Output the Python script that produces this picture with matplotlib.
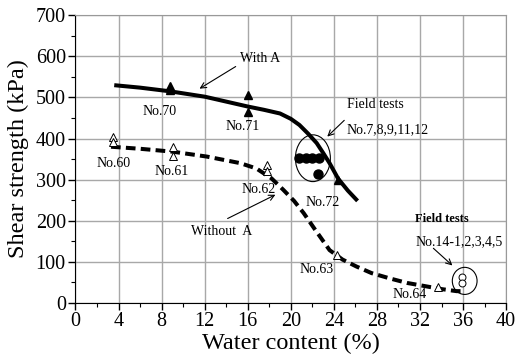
import matplotlib.pyplot as plt
from matplotlib.patches import Ellipse

plt.rcParams['font.family'] = ['Liberation Serif', 'DejaVu Serif']

# fitted trend lines
with_a_x = [3.6, 6.0, 8.8, 12.0, 14.0, 16.0, 17.5, 19.0, 20.0, 20.8, 21.6, 22.4, 23.0, 23.6, 24.4, 25.3, 26.2]
with_a_y = [530, 524, 515, 502, 490, 478, 470, 461, 448, 433, 412, 389, 365, 340, 302, 273, 248]
without_a_x = [3.3, 6.0, 9.0, 12.2, 15.3, 16.8, 18.2, 19.3, 20.3, 21.2, 22.2, 23.6, 24.8, 26.1, 27.5, 29.2, 30.8, 32.3, 34.0, 35.4, 36.2]
without_a_y = [380, 375, 368, 356, 340, 327, 303, 275, 248, 218, 180, 128, 105, 88, 72, 59, 48, 41, 33, 28, 28]

# lab tests
with_a_pts_x = [8.8, 8.8, 16.0, 16.0, 24.4]
with_a_pts_y = [528, 518, 506, 464, 298]
without_a_pts_x = [3.45, 3.45, 9.1, 9.1, 17.8, 17.8, 24.3, 33.7]
without_a_pts_y = [404, 391, 380, 358, 336, 322, 116, 37]

# field tests
field1_x = [20.8, 21.4, 22.0, 22.6, 22.5]
field1_y = [353, 353, 353, 353, 313]
field2_x = [35.9, 35.9]
field2_y = [63, 47]

fig, ax = plt.subplots(figsize=(5.17, 3.59), dpi=100)
fig.subplots_adjust(left=0.146, right=0.979, bottom=0.157, top=0.957)

ax.plot(with_a_x, with_a_y, color='black', lw=2.9, solid_capstyle='butt', zorder=3)
ax.plot(without_a_x, without_a_y, color='black', lw=2.9, ls=(0, (2.4, 1.3)), zorder=3)

ax.plot(with_a_pts_x, with_a_pts_y, ls='none', marker='^', ms=6, color='black', zorder=4)
ax.plot(without_a_pts_x, without_a_pts_y, ls='none', marker='^', ms=6,
        mfc='white', mec='black', mew=0.7, zorder=4)
ax.plot(field1_x, field1_y, ls='none', marker='o', ms=6.5, color='black', zorder=4)
ax.plot(field2_x, field2_y, ls='none', marker='o', ms=5, mfc='white', mec='black', mew=0.7, zorder=4)

ax.add_patch(Ellipse((22.05, 352), 3.25, 114, fill=False, ec='black', lw=0.8, zorder=5))
ax.add_patch(Ellipse((36.15, 53), 2.3, 66, fill=False, ec='black', lw=0.8, zorder=5))

fs = 10
ax.text(15.25, 596, 'With A', fontsize=fs, va='center')
ax.annotate('', xy=(11.3, 518), xytext=(15.1, 579),
            arrowprops=dict(arrowstyle='->', lw=0.8, color='black'))
ax.text(13.55, 173, 'Without  A', fontsize=fs, ha='center', va='center')
ax.annotate('', xy=(18.8, 266), xytext=(13.9, 202),
            arrowprops=dict(arrowstyle='->', lw=0.8, color='black'))

ax.text(25.2, 484, 'Field tests', fontsize=fs, va='center')
ax.text(25.2, 422, 'No.7,8,9,11,12', fontsize=fs, va='center')
ax.annotate('', xy=(23.2, 400), xytext=(25.15, 449),
            arrowprops=dict(arrowstyle='->', lw=0.8, color='black'))

ax.text(31.55, 204, 'Field tests', fontsize=9, fontweight='bold', va='center')
ax.text(31.55, 149, 'No.14-1,2,3,4,5', fontsize=fs, va='center')
ax.annotate('', xy=(35.2, 86), xytext=(33.05, 137),
            arrowprops=dict(arrowstyle='->', lw=0.8, color='black'))

labels = [('No.70', 7.85, 465), ('No.71', 15.55, 429), ('No.60', 3.5, 338),
          ('No.61', 8.95, 319), ('No.62', 17.0, 275), ('No.72', 23.0, 245),
          ('No.63', 22.4, 81), ('No.64', 31.0, 19)]
for txt, lx, ly in labels:
    ax.text(lx, ly, txt, fontsize=fs, ha='center', va='center')

ax.set_xlim(0, 40)
ax.set_ylim(0, 700)
ax.set_xticks(range(0, 41, 4))
ax.set_yticks(range(0, 701, 100))
ax.set_xticks(range(2, 40, 4), minor=True)
ax.set_yticks(range(50, 700, 100), minor=True)
ax.tick_params(labelsize=14.5, direction='out', length=5, width=1, pad=2)
ax.tick_params(which='minor', direction='out', length=3, width=0.8)
ax.grid(True, color='#a8a8a8', lw=1)
ax.set_axisbelow(True)
for side in ['top', 'right']:
    ax.spines[side].set_color('#999999')
ax.set_xlabel('Water content (%)', fontsize=17.5, labelpad=1)
ax.set_ylabel('Shear strength (kPa)', fontsize=17.5, labelpad=5)

fig.savefig('out.png', dpi=100)
